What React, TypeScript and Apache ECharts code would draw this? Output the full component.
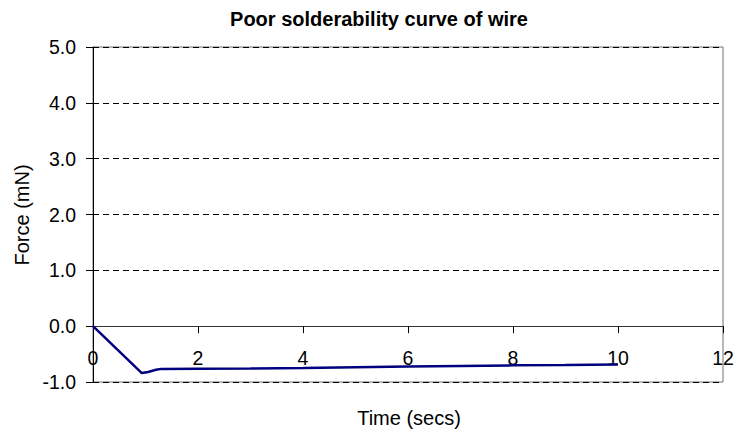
import React, { useEffect, useRef } from "react";
import * as echarts from "echarts";

const chartTitle = "Poor solderability curve of wire";
const xAxisTitle = "Time (secs)";
const yAxisTitle = "Force (mN)";

const timeSecs = [0, 0.93, 1.05, 1.2, 1.3, 2, 3, 4, 5, 6, 7, 8, 9, 10];
const forceMN = [0, -0.84, -0.82, -0.78, -0.765, -0.762, -0.757, -0.748, -0.735, -0.722, -0.712, -0.702, -0.695, -0.685];

const xMin = 0, xMax = 12, xStep = 2;
const yMin = -1, yMax = 5, yStep = 1;

const FONT = "Liberation Sans, Arial, sans-serif";

const GRID_TOP = 47;
const GRID_BOTTOM = 50;
const CHART_H = 432;

export default function App() {
  const ref = useRef<HTMLDivElement>(null);
  useEffect(() => {
    if (!ref.current) return;
    const chart = echarts.init(ref.current, undefined, { renderer: "svg" });
    const pts = timeSecs.map((t, i) => [t, forceMN[i]]);
    const plotH = CHART_H - GRID_TOP - GRID_BOTTOM;
    // move the x axis up so it crosses the y axis at zero
    const zeroOffset = -((0 - yMin) / (yMax - yMin)) * plotH;
    chart.setOption({
      animation: false,
      backgroundColor: "#ffffff",
      grid: {
        left: 93,
        right: 14,
        top: GRID_TOP,
        bottom: GRID_BOTTOM,
        containLabel: false,
        show: true,
        borderColor: "#707070",
        borderWidth: 1,
        backgroundColor: "transparent",
      },
      graphic: [
        {
          type: "text",
          x: 379,
          y: 19,
          style: {
            text: chartTitle,
            font: `bold 20px ${FONT}`,
            fill: "#000",
            textAlign: "center",
            textVerticalAlign: "middle",
          },
        },
        {
          type: "text",
          x: 409,
          y: 418,
          style: {
            text: xAxisTitle,
            font: `20px ${FONT}`,
            fill: "#000",
            textAlign: "center",
            textVerticalAlign: "middle",
          },
        },
        {
          type: "text",
          x: 22,
          y: 215,
          rotation: Math.PI / 2,
          style: {
            text: yAxisTitle,
            font: `20px ${FONT}`,
            fill: "#000",
            textAlign: "center",
            textVerticalAlign: "middle",
          },
        },
      ],
      xAxis: {
        type: "value",
        position: "bottom",
        offset: zeroOffset,
        min: xMin,
        max: xMax,
        interval: xStep,
        axisLine: { show: true, onZero: false, lineStyle: { color: "#333", width: 1 } },
        axisTick: { show: true, inside: false, length: 7, lineStyle: { color: "#000" } },
        axisLabel: {
          show: true,
          margin: 22,
          color: "#000",
          fontSize: 19.5,
          fontFamily: FONT,
        },
        splitLine: { show: false },
      },
      yAxis: {
        type: "value",
        min: yMin,
        max: yMax,
        interval: yStep,
        axisLine: { show: true, onZero: false, lineStyle: { color: "#000", width: 1 } },
        axisTick: { show: true, inside: false, length: 7, lineStyle: { color: "#000" } },
        axisLabel: {
          show: true,
          margin: 17,
          color: "#000",
          fontSize: 19.5,
          fontFamily: FONT,
          formatter: (v: number) => v.toFixed(1),
        },
        splitLine: { show: true, lineStyle: { color: "#000", type: [6, 4], width: 1 } },
      },
      series: [
        {
          type: "line",
          data: pts,
          showSymbol: false,
          symbol: "none",
          smooth: false,
          lineStyle: { color: "#000080", width: 2.5 },
          itemStyle: { color: "#000080" },
        },
      ],
    });
    return () => chart.dispose();
  }, []);
  return (
    <div
      ref={ref}
      style={{ position: "fixed", left: 0, top: 0, width: 737, height: 432, background: "#fff" }}
    />
  );
}
